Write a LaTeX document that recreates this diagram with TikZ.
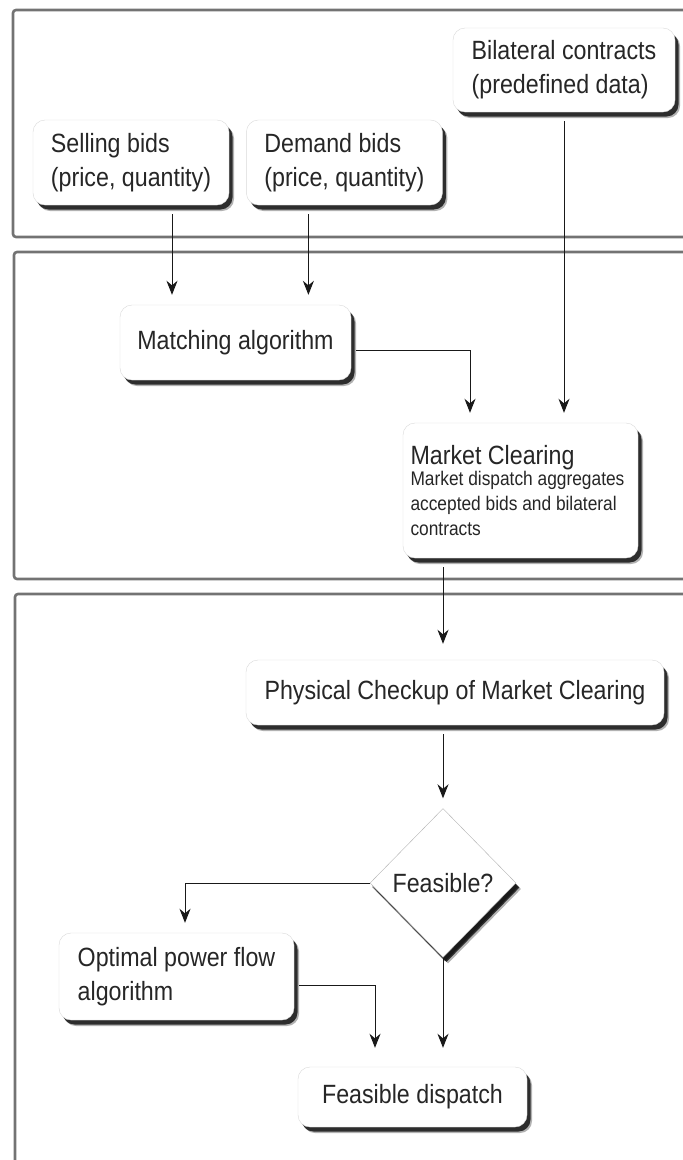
\documentclass[tikz,border=0pt]{standalone}
\usepackage{fontspec}
\setmainfont{Liberation Sans}[FakeStretch=0.88]
\usetikzlibrary{positioning}
\usetikzlibrary{shapes.geometric}
\usetikzlibrary{shadows}
\usetikzlibrary{arrows.meta}
\setlength{\parindent}{0pt}
\tikzset{
  box/.style={rectangle,rounded corners=12pt,draw=black!15,fill=white,inner sep=0pt,
    align=left,text=black!85,font=\fontsize{26.4}{34}\selectfont,
    drop shadow={shadow xshift=5pt,shadow yshift=-6pt,opacity=0.3,fill=black},
    drop shadow={shadow xshift=3.5pt,shadow yshift=-4.5pt,opacity=0.75,fill=black}},
  decision/.style={box,diamond,sharp corners,draw=black!30,
    drop shadow={shadow xshift=2pt,shadow yshift=-4pt,opacity=0.45,fill=black}},
  arr/.style={-{Stealth[length=14pt,width=11pt]},line width=1pt,black!90,
    shorten <=9pt,shorten >=10pt},
  panel/.style={draw=black!55,line width=2.6pt,rounded corners=3pt}
}

\begin{document}
\begin{tikzpicture}[x=1pt,y=-1pt]
  \useasboundingbox (0,0) rectangle (683,1160);
  % three stages
  \draw[panel] (13,10) rectangle (720,237);
  \draw[panel] (14,252) rectangle (720,579);
  \draw[panel] (15,594) rectangle (720,1200);

  \node(sell)[box,minimum width=196pt,minimum height=85pt] at (131,162.5)
    {Selling bids\\(price, quantity)};
  \node(demand)[box,minimum width=196pt,minimum height=85pt,right=17pt of sell]
    {Demand bids\\(price, quantity)};
  \node(bilat)[box,minimum width=222pt,minimum height=84pt] at (564,70)
    {Bilateral contracts\\(predefined data)};
  \node(match)[box,minimum width=231pt,minimum height=75pt] at (235.5,342.5)
    {Matching algorithm};
  \node(market)[box,minimum width=235pt,minimum height=135pt] at (520.5,490.5)
    {\parbox{220pt}{\raggedright
     {\fontsize{26.4}{30}\selectfont Market Clearing\par}\vspace{-4pt}%
     \fontsize{19.7}{25}\selectfont Market dispatch aggregates\\accepted bids and bilateral\\contracts\par}};
  \node(phys)[box,minimum width=418pt,minimum height=65pt] at (455,692.5)
    {Physical Checkup of Market Clearing};
  \node(feas)[decision,minimum width=146pt,minimum height=149pt] at (443,883)
    {Feasible?};
  \node(opf)[box,minimum width=235pt,minimum height=87pt] at (176.5,976.5)
    {Optimal power flow\\algorithm};
  \node(disp)[box,minimum width=229pt,minimum height=60pt] at (412.5,1097)
    {Feasible dispatch};

\draw[arr]([xshift=41pt]sell.south) -- ([xshift=41pt]sell.south |- match.north);
\draw[arr]([xshift=-36pt]demand.south) -- ([xshift=-36pt]demand.south |- match.north);
\draw[arr](bilat.south) -- (bilat.south |- market.north);
\draw[arr,shorten <=5pt]([yshift=-7.5pt]match.east) -| ([xshift=-50.5pt]market.north);
\draw[arr,shorten >=16pt](market.south -| feas) -- (phys.north -| feas);
\draw[arr](phys.south -| feas) -- (feas.north);
\draw[arr,shorten <=0pt](feas.west) -| ([xshift=8.5pt]opf.north);
\draw[arr,shorten <=5pt,shorten >=19pt]([yshift=-8.5pt]opf.east) -| ([xshift=-37.5pt]disp.north);
\draw[arr,shorten <=0pt,shorten >=19pt](feas.south) -- (feas.south |- disp.north);
\end{tikzpicture}
\end{document}
